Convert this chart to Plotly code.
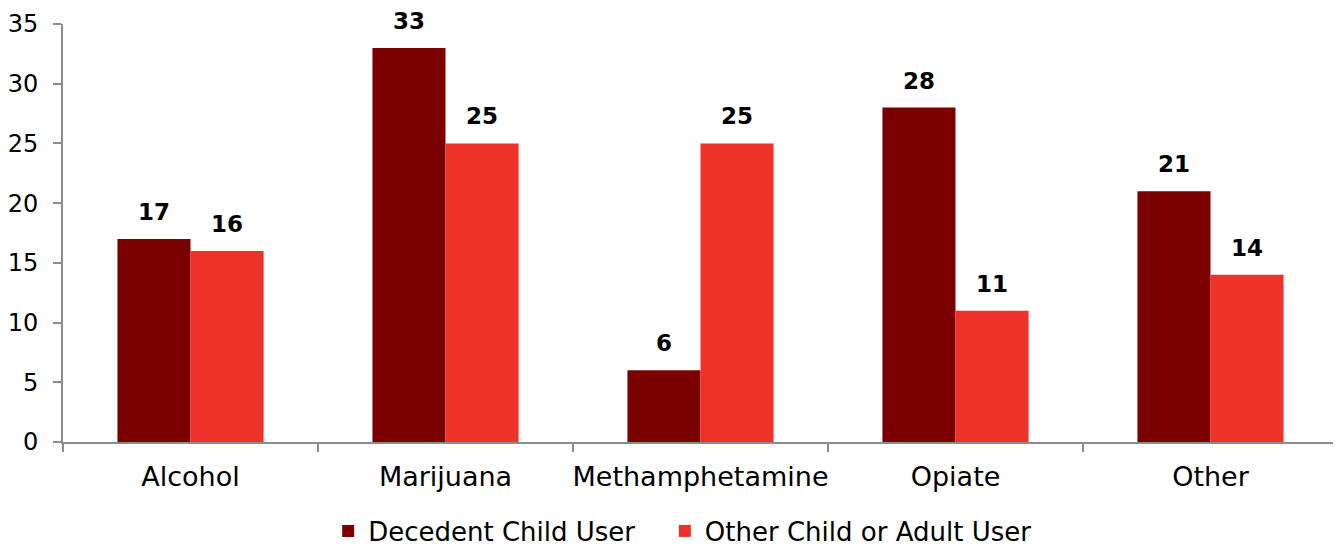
import plotly.graph_objects as go

categories = ["Alcohol", "Marijuana", "Methamphetamine", "Opiate", "Other"]
decedent_child = [17, 33, 6, 28, 21]
other_user = [16, 25, 25, 11, 14]

series = [
    ("Decedent Child User\u00a0\u00a0\u00a0", decedent_child, "#7B0000", -36.5),
    ("Other Child or Adult User", other_user, "#EE3229", 36.5),
]

fig = go.Figure()
for name, vals, color, shift in series:
    fig.add_trace(go.Bar(x=categories, y=vals, name=name, marker_color=color,
                         marker_line_width=0))
    # value labels above each bar
    for cat, v in zip(categories, vals):
        fig.add_annotation(x=cat, y=v, text=f"<b>{v}</b>", showarrow=False,
                           xshift=shift, yshift=27, yanchor="middle",
                           font=dict(size=23, color="black", family="DejaVu Sans"))

# page body has an 8px margin, so the figure's margins are shifted accordingly
fig.update_layout(
    width=1341, height=546,
    margin=dict(l=55, r=11, t=16, b=112, autoexpand=False),
    barmode="group", bargap=0.427, bargroupgap=0,
    plot_bgcolor="white", paper_bgcolor="white",
    font=dict(family="DejaVu Sans", size=26, color="black"),
    showlegend=True,
    legend=dict(orientation="h", x=0.208, xanchor="left", y=-0.213, yanchor="middle",
                font=dict(size=26), itemwidth=30, traceorder="normal"),
)
fig.update_yaxes(range=[0, 35], dtick=5, showgrid=False, showline=True,
                 linecolor="#8C8C8C", linewidth=2, ticks="outside", ticklen=8,
                 tickcolor="#8C8C8C", tickwidth=2, zeroline=False, automargin=False,
                 ticklabelstandoff=10, tickfont=dict(size=24))
fig.update_xaxes(showline=True, linecolor="#8C8C8C", linewidth=2, ticks="outside",
                 tickson="boundaries", ticklen=8, tickcolor="#8C8C8C", tickwidth=2,
                 automargin=False, tickangle=0, ticklabelstandoff=10,
                 tickfont=dict(size=27))

fig.write_html("out.html")
